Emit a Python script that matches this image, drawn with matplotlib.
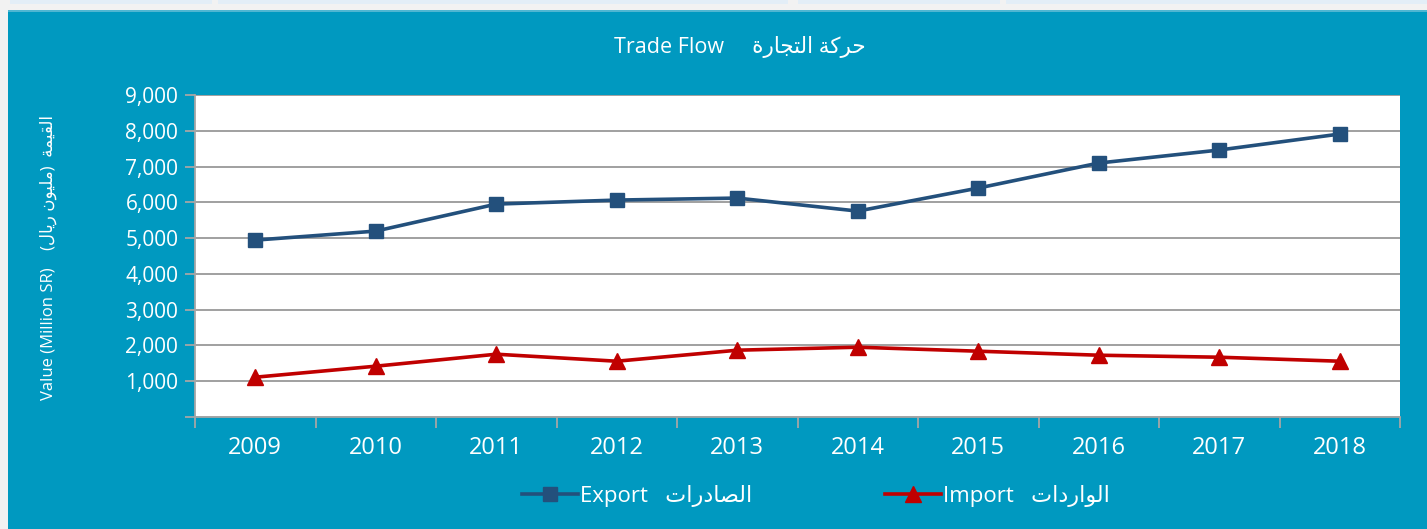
import matplotlib.pyplot as plt
import matplotlib.patches as mpatches
from matplotlib.ticker import FuncFormatter, MultipleLocator

# data
years = ['2009', '2010', '2011', '2012', '2013', '2014', '2015', '2016', '2017', '2018']
export_vals = [4944, 5196, 5951, 6063, 6119, 5755, 6399, 7098, 7462, 7909]
import_vals = [1112, 1420, 1755, 1559, 1867, 1951, 1839, 1727, 1671, 1559]

# Arabic text, pre-shaped (presentation forms, visual order) since matplotlib does no shaping
ar_title = '\uFE93\uFEAD\uFE8E\uFEA0\uFE98\uFEDF\uFE8D \uFE94\uFEDB\uFEAE\uFEA3'      # حركة التجارة
ar_value = '\uFE94\uFEE4\uFEF4\uFED8\uFEDF\uFE8D'                                      # القيمة
ar_million = '\uFEE5\uFEEE\uFEF4\uFEE0\uFEE3'                                          # مليون
ar_riyal = '\uFEDD\uFE8E\uFEF3\uFEAD'                                                  # ريال
ar_export = '\uFE95\uFE8D\uFEAD\uFEA9\uFE8E\uFEBC\uFEDF\uFE8D'                          # الصادرات
ar_import = '\uFE95\uFE8D\uFEA9\uFEAD\uFE8D\uFEEE\uFEDF\uFE8D'                          # الواردات

teal = '#0099C0'
fams = ['Open Sans', 'DejaVu Sans']
plt.rcParams['font.family'] = fams

fig = plt.figure(figsize=(14.27, 5.29), dpi=100)
fig.patch.set_facecolor('#F2F2F2')

# background panel drawn in its own axes, behind everything
bg = fig.add_axes([0, 0, 1, 1], zorder=-10)
bg.set_xlim(0, 1427)
bg.set_ylim(529, 0)
bg.axis('off')
bg.add_patch(mpatches.Rectangle((8, 10), 1427, 529, facecolor=teal, edgecolor='none'))
bg.add_patch(mpatches.Rectangle((8, 10), 1427, 2, facecolor='#4FB6D2', edgecolor='none'))
for x0, x1 in [(10, 212), (218, 788), (798, 1000), (1006, 1427)]:
    bg.add_patch(mpatches.Rectangle((x0, 0), x1 - x0, 4, facecolor='#E3EEF7', edgecolor='none'))

ax = fig.add_axes([195 / 1427, 1 - 417 / 529, 1205 / 1427, 322 / 529], zorder=1)
ax.set_facecolor('white')
x = list(range(len(years)))
ax.plot(x, export_vals, color='#23507C', lw=2.6, marker='s', ms=10, zorder=3,
        label='Export   ' + ar_export)
ax.plot(x, import_vals, color='#C00000', lw=2.6, marker='^', ms=11, zorder=3,
        label='Import   ' + ar_import)

ax.set_xlim(-0.5, len(years) - 0.5)
ax.set_ylim(0, 9000)
ax.yaxis.set_major_locator(MultipleLocator(1000))
ax.yaxis.set_major_formatter(FuncFormatter(lambda v, p: '' if v == 0 else f'{int(v):,}'))
ax.set_xticks([i - 0.5 for i in range(len(years) + 1)])
ax.set_xticklabels([])
ax.set_xticks(x, minor=True)
ax.set_xticklabels(years, minor=True)
ax.tick_params(axis='x', which='minor', length=0, pad=14, labelsize=17, labelcolor='white')
ax.tick_params(axis='x', which='major', length=8, color='#A6A6A6', width=1.3)
ax.tick_params(axis='y', length=7, color='#A6A6A6', width=1.3, labelsize=15,
               labelcolor='white', pad=5)
ax.grid(axis='y', color='#A0A0A0', lw=1.4)
ax.set_axisbelow(True)
for s in ['top', 'right']:
    ax.spines[s].set_visible(False)
for s in ['left', 'bottom']:
    ax.spines[s].set_color('#A6A6A6')
    ax.spines[s].set_linewidth(1.3)

fig.text(740 / 1427, 1 - 47 / 529, 'Trade Flow     ' + ar_title, ha='center', va='center',
         color='white', fontsize=15.5)
fig.text(48 / 1427, 1 - 258 / 529,
         'Value (Million SR)    (' + ar_riyal + ' ' + ar_million + ')  ' + ar_value,
         rotation=90, ha='center', va='center', color='white', fontsize=12)

leg = fig.legend(loc='center', bbox_to_anchor=(816 / 1427, 1 - 496 / 529), ncol=2, frameon=False,
                 fontsize=16, handlelength=2.5, handletextpad=0.1, columnspacing=6.0)
for t in leg.get_texts():
    t.set_color('white')

fig.savefig('out.png', dpi=100, facecolor=fig.get_facecolor())
